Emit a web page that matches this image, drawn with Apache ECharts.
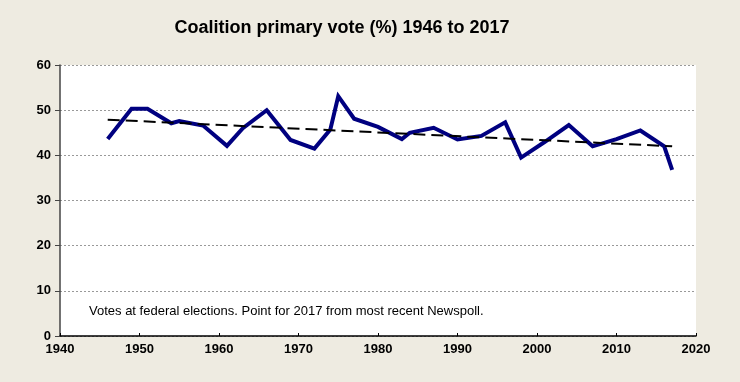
<!DOCTYPE html>
<html><head><meta charset="utf-8">
<script src="https://cdn.jsdelivr.net/npm/echarts@6/dist/echarts.min.js"></script>
<style>html,body{margin:0;padding:0;background:#EEEBE1;}#c{width:740px;height:382px;}</style>
</head><body><div id="c"></div>
<script>
const years = [1946,1949,1951,1954,1955,1958,1961,1963,1966,1969,1972,1974,1975,1977,1980,1983,1984,1987,1990,1993,1996,1998,2001,2004,2007,2010,2013,2016,2017];
const votes = [43.6,50.3,50.3,47.1,47.6,46.6,42.1,46.0,50.0,43.4,41.5,45.7,53.1,48.1,46.3,43.6,45.0,46.1,43.5,44.3,47.3,39.5,43.0,46.7,42.0,43.6,45.5,42.0,36.8];
const trendYears = [1946,2017];
const trendValues = [47.9,42.0];
const titleText = 'Coalition primary vote (%) 1946 to 2017';
const noteText = 'Votes at federal elections. Point for 2017 from most recent Newspoll.';

const chart = echarts.init(document.getElementById('c'));
const bold = "'Liberation Sans', Arial, sans-serif";
chart.setOption({
  backgroundColor: '#EEEBE1',
  animation: false,
  title: {
    text: titleText, left: 337, top: 14, textAlign: 'center',
    textStyle: {fontFamily: bold, fontWeight: 'bold', fontSize: 18, color: '#000'}
  },
  grid: {left: 60, right: 44, top: 65, bottom: 46, show: true, backgroundColor: '#fff', borderWidth: 0},
  xAxis: {
    type: 'value', min: 1940, max: 2020, interval: 10,
    axisLine: {show: true, lineStyle: {color: '#000', width: 1.5}},
    axisTick: {show: true, inside: true, length: 3, lineStyle: {color: '#000'}},
    splitLine: {show: false},
    axisLabel: {fontFamily: bold, fontWeight: 'bold', fontSize: 13, color: '#000', margin: 7, formatter: v => String(v)}
  },
  yAxis: {
    type: 'value', min: 0, max: 60, interval: 10,
    axisLine: {show: true, lineStyle: {color: '#444', width: 1.5}},
    axisTick: {show: true, length: 5, lineStyle: {color: '#444'}},
    splitLine: {show: true, lineStyle: {color: '#999', type: [2, 2], width: 1}},
    axisLabel: {fontFamily: bold, fontWeight: 'bold', fontSize: 13, color: '#000', margin: 9}
  },
  graphic: [{
    type: 'text', left: 89, top: 305,
    style: {text: noteText, font: "13px 'Liberation Sans', Arial, sans-serif", fill: '#000'}
  }],
  series: [
    {
      type: 'line', data: years.map((y, i) => [y, votes[i]]),
      symbol: 'none', lineStyle: {color: '#000080', width: 4, join: 'miter'}, z: 3
    },
    {
      type: 'line', data: trendYears.map((y, i) => [y, trendValues[i]]),
      symbol: 'none', lineStyle: {color: '#000', width: 2, type: [12, 6]}, z: 4
    }
  ]
});
</script></body></html>
